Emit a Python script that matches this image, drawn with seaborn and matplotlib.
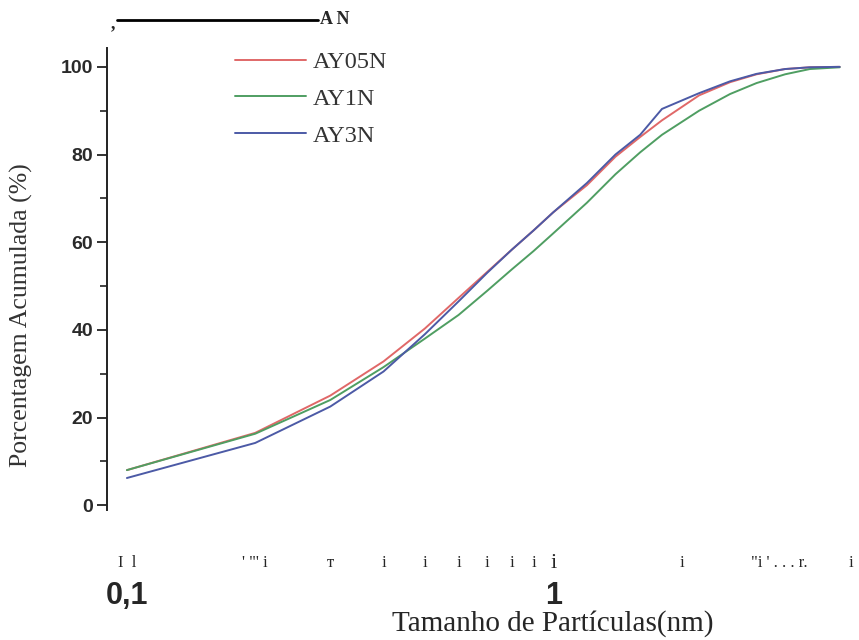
import matplotlib
matplotlib.use('Agg')
import matplotlib.pyplot as plt
import matplotlib.transforms as mtransforms
from matplotlib.ticker import MultipleLocator, FixedLocator, NullLocator
import seaborn as sns
import pandas as pd

# particle size (x) and cumulative percentage for each sample
sizes = [0.1, 0.2, 0.3, 0.4, 0.5, 0.6, 0.7, 0.8, 0.9, 1.0,
         1.2, 1.4, 1.6, 1.8, 2.2, 2.6, 3.0, 3.5, 4.0, 4.7]
ay05n = [8.0, 16.5, 25.0, 32.8, 40.3, 47.3, 53.2, 58.3, 62.7, 66.8,
         73.0, 79.5, 84.0, 87.8, 93.5, 96.5, 98.3, 99.5, 99.9, 100.0]
ay1n = [8.0, 16.3, 24.0, 31.5, 38.0, 43.4, 48.9, 53.8, 58.0, 62.0,
        69.0, 75.5, 80.5, 84.5, 90.0, 93.8, 96.3, 98.3, 99.5, 99.9]
ay3n = [6.2, 14.2, 22.5, 30.5, 39.0, 46.5, 53.0, 58.3, 62.7, 66.8,
        73.5, 80.0, 84.5, 90.4, 94.0, 96.7, 98.4, 99.5, 99.9, 100.0]
series_names = ['AY05N', 'AY1N', 'AY3N']
colors = ['#e06868', '#4f9e62', '#4c5aa6']

# scanned-axis leftovers under the plot
junk_x = [0.1, 0.2, 0.3, 0.4, 0.5, 0.6, 0.7, 0.8, 0.9, 1.0, 2.0, 3.4, 5.0]
junk_txt = ['I  l', '\' "\' i', 'т', 'i', 'i', 'i', 'i', 'i', 'i', 'i', 'i', '"i \' . . . r.', 'i']

df = pd.DataFrame({
    'size': sizes * 3,
    'pct': ay05n + ay1n + ay3n,
    'amostra': [n for n in series_names for _ in sizes],
})

sns.set_style('white')
plt.rcParams['font.family'] = ['Liberation Sans', 'DejaVu Sans']

fig = plt.figure(figsize=(8.59, 6.4), dpi=100)
ax = fig.add_axes([107 / 859, 130 / 640, 743 / 859, 462 / 640])

sns.lineplot(data=df, x='size', y='pct', hue='amostra', palette=colors,
             estimator=None, sort=False, linewidth=1.4, ax=ax)

ax.set_xscale('log')
ax.set_xlim(0.0898, 4.97)
ax.set_ylim(-1.1, 104.3)

for s in ['top', 'right', 'bottom']:
    ax.spines[s].set_visible(False)
ax.spines['left'].set_color('#222222')
ax.spines['left'].set_linewidth(1.4)

ax.yaxis.set_major_locator(MultipleLocator(20))
ax.yaxis.set_minor_locator(MultipleLocator(10))
ax.tick_params(axis='y', which='major', direction='out', length=7, width=1.3,
               color='#222222', labelsize=14, labelcolor='#2a2a2a', pad=3, left=True)
ax.tick_params(axis='y', which='minor', direction='out', length=5, width=1.2,
               color='#222222', left=True)
for lab in ax.get_yticklabels():
    lab.set_fontweight('bold')

ax.xaxis.set_major_locator(FixedLocator([0.1, 1.0]))
ax.xaxis.set_minor_locator(NullLocator())
ax.set_xticklabels(['0,1', '1'], fontsize=22, fontweight='bold')
ax.tick_params(axis='x', which='major', length=0, pad=51, bottom=True)

ax.set_xlabel('Tamanho de Partículas(nm)', family=['Liberation Serif'], fontsize=21)
ax.xaxis.set_label_coords((553 - 107) / 743, (510 - 610) / 462)
ax.set_ylabel('Porcentagem Acumulada (%)', family=['Liberation Serif'], fontsize=18.5,
              color='#333333')
ax.yaxis.set_label_coords((33 - 107) / 743, (510 - 315) / 462)

trans = mtransforms.blended_transform_factory(ax.transData, ax.transAxes)
for xv, t in zip(junk_x, junk_txt):
    big = (xv == 1.0)
    ax.text(xv, -0.115, t, transform=trans, ha='center', va='center',
            family=['Liberation Serif'], fontsize=16 if big else 12, clip_on=False)

leg = ax.legend(loc='upper left', bbox_to_anchor=(0.143, 1.04), frameon=False,
                handlelength=2.9, handletextpad=0.3, labelspacing=0.6,
                prop={'family': 'Liberation Serif', 'size': 17.5})
for t in leg.get_texts():
    t.set_color('#333333')

# scan artifact at the top
fig.add_artist(plt.Line2D([117 / 859, 318 / 859], [1 - 20 / 640, 1 - 20 / 640],
                          color='black', linewidth=2))
fig.text(113 / 859, 1 - 24 / 640, ',', ha='center', va='center', fontsize=13,
         family=['Liberation Serif'], fontweight='bold')
fig.text(320 / 859, 1 - 20 / 640, 'A N', ha='left', va='center', fontsize=13,
         family=['Liberation Serif'], fontweight='bold')

fig.savefig('out.png', dpi=100)
